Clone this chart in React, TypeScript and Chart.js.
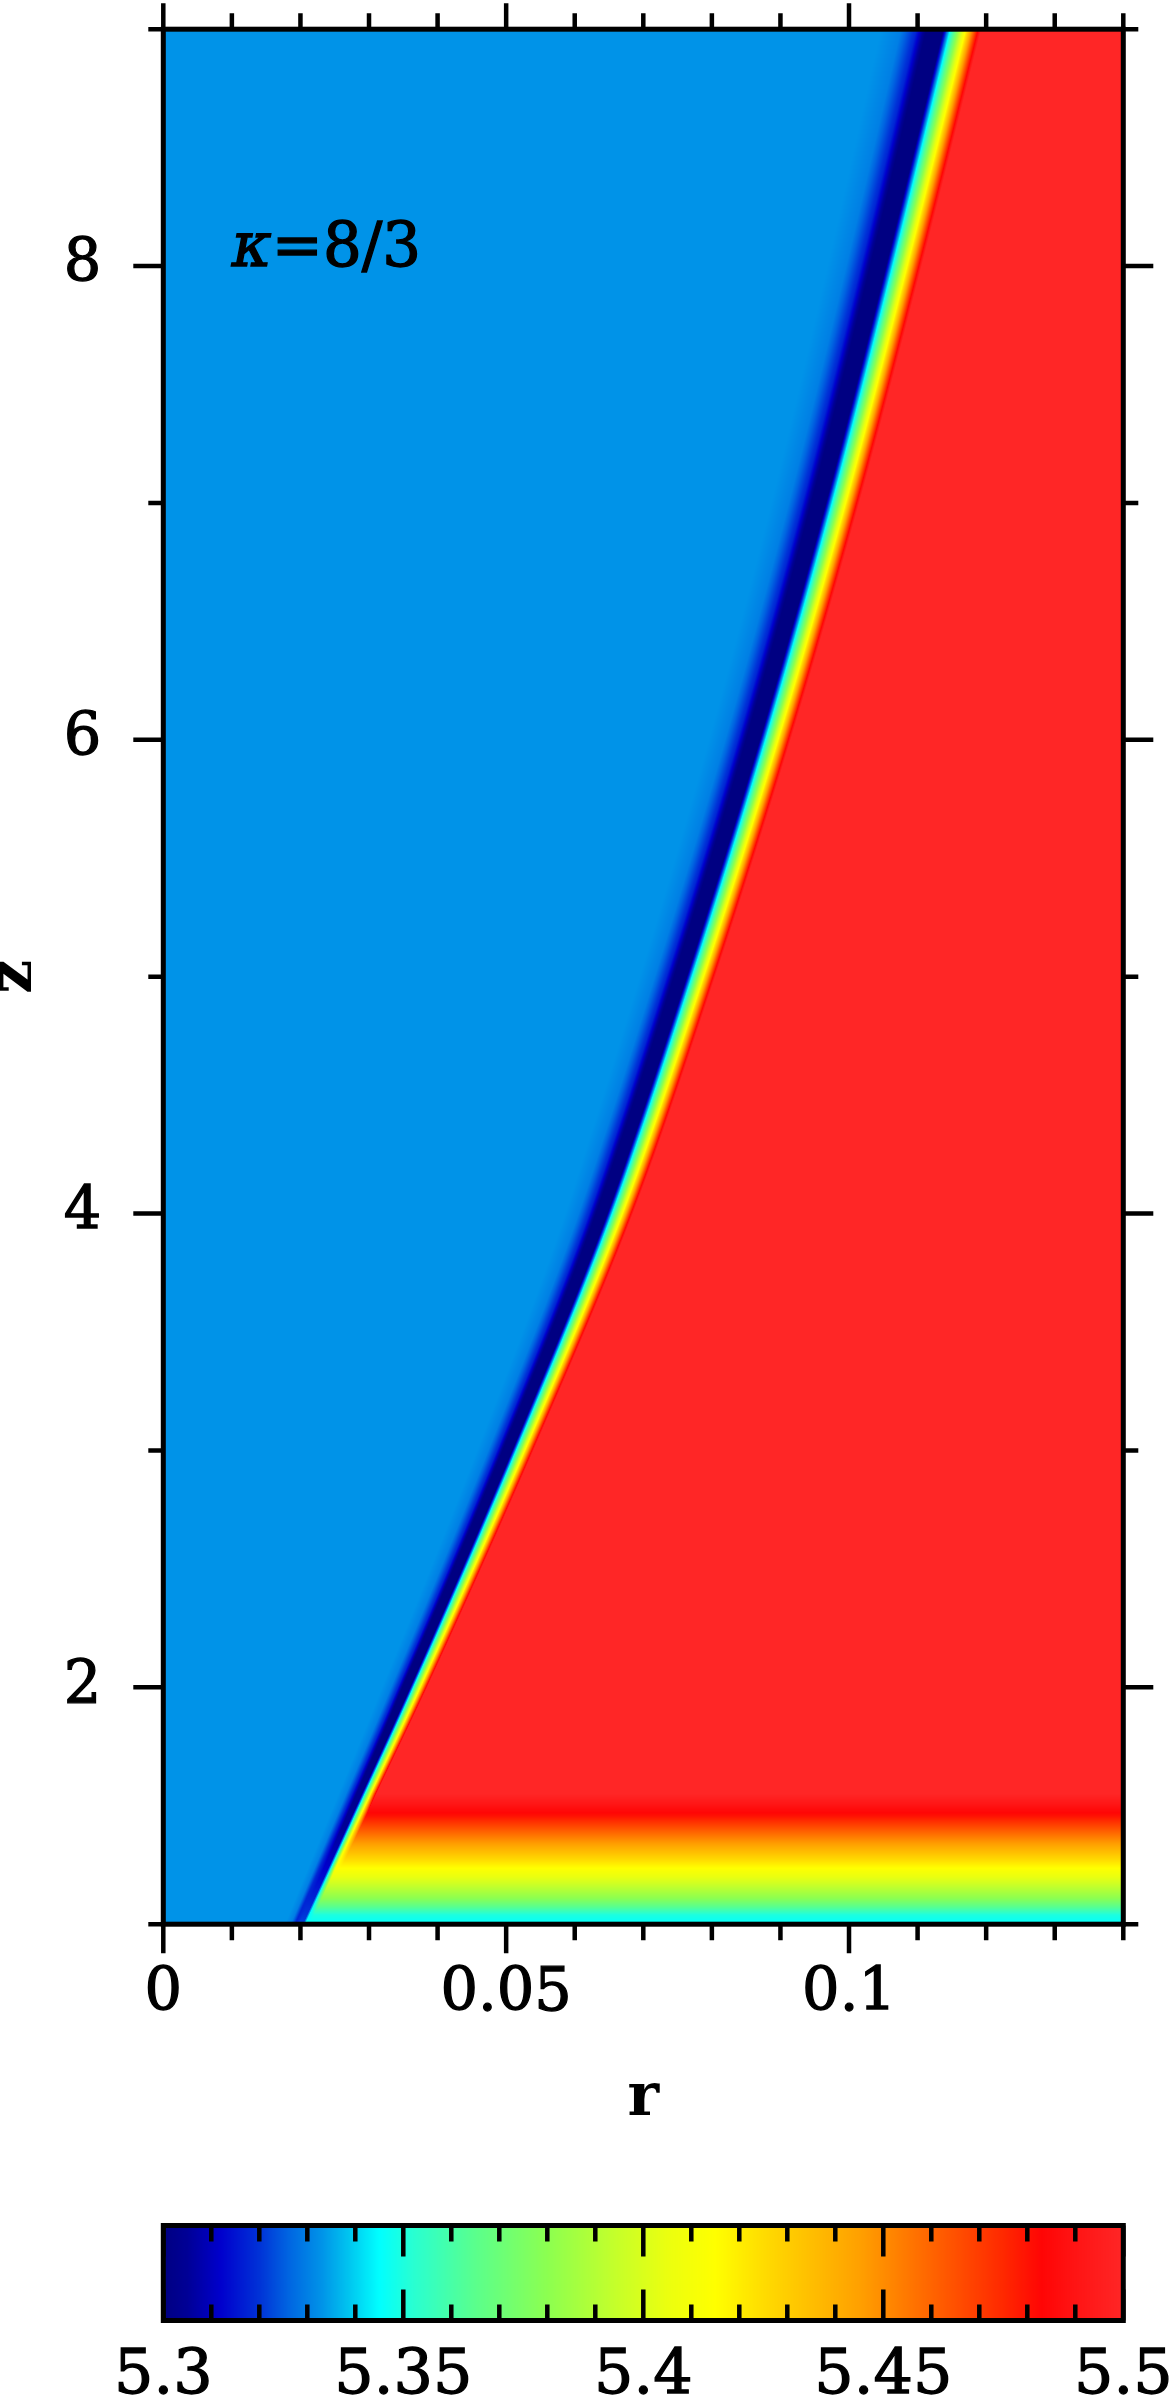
import React, { useEffect, useRef } from 'react';
import { Chart, registerables } from 'chart.js';

Chart.register(...registerables);

// ---------------- data ----------------
const rRange = [0, 0.14];
const zRange = [1, 9];
const valueRange = [5.3, 5.5];

const xLabelTicks = [0, 0.05, 0.1];
const xAllTicks = [0, 0.01, 0.02, 0.03, 0.04, 0.05, 0.06, 0.07, 0.08, 0.09, 0.1, 0.11, 0.12, 0.13, 0.14];
const yLabelTicks = [2, 4, 6, 8];
const yAllTicks = [1, 2, 3, 4, 5, 6, 7, 8, 9];
const cbLabelTicks = [5.3, 5.35, 5.4, 5.45, 5.5];
const cbAllTicks = [5.3, 5.31, 5.32, 5.33, 5.34, 5.35, 5.36, 5.37, 5.38, 5.39, 5.4, 5.41, 5.42, 5.43, 5.44, 5.45, 5.46, 5.47, 5.48, 5.49, 5.5];

// shock front: radius where the red (post-shock) region begins, per height z
const frontZ = [1, 1.52, 2, 3, 4, 5, 6, 7, 8, 9];
const frontR = [0.022, 0.0306, 0.0385, 0.054, 0.0685, 0.0805, 0.0915, 0.1015, 0.1106, 0.1193];

// value on the red side of the front (only varies near the bottom)
const postZ = [1, 1.04, 1.11, 1.22, 1.355, 1.456, 1.55, 9];
const postV = [5.345, 5.35, 5.38, 5.41, 5.45, 5.48, 5.5, 5.5];

// value on the blue side vs. distance behind the front (reference height z = 4.3)
const profileDr = [0, 0.00146, 0.00292, 0.00365, 0.00496, 0.00612, 0.00758, 0.00948];
const profileV = [5.5, 5.415, 5.345, 5.296, 5.296, 5.318, 5.33, 5.333];
// depth of the dark trough near the bottom
const troughZ = [1, 1.4, 2];
const troughV = [5.322, 5.305, 5.296];
// width of that profile relative to z = 4.3
const bandZ = [1, 2, 4.3, 9];
const bandScale = [0.45, 0.7, 1.1, 1.55];

// colour map
const cmapV = [5.3, 5.305, 5.312, 5.32, 5.326, 5.333, 5.339, 5.345, 5.352, 5.365, 5.38, 5.395, 5.405, 5.415, 5.425, 5.435, 5.445, 5.455, 5.465, 5.475, 5.483, 5.49, 5.5];
const cmapRGB = [
  [0, 0, 130], [0, 0, 150], [0, 0, 205], [0, 50, 215], [0, 100, 225], [0, 147, 232],
  [0, 200, 240], [0, 255, 255], [40, 255, 210], [90, 255, 140], [140, 255, 80], [200, 255, 40],
  [235, 255, 15], [255, 255, 0], [255, 220, 0], [255, 190, 0], [255, 160, 0], [255, 120, 0],
  [255, 80, 0], [255, 40, 0], [255, 5, 5], [255, 20, 20], [255, 38, 38],
];

const noteText = { symbol: 'κ', rest: '=8/3', r: 0.01, z: 8 };

// ---------------- helpers ----------------
const FONT = "'DejaVu Serif', serif";

function interp(xs: number[], ys: number[], x: number) {
  if (x <= xs[0]) return ys[0];
  for (let i = 1; i < xs.length; i++) {
    if (x <= xs[i]) {
      const t = (x - xs[i - 1]) / (xs[i] - xs[i - 1]);
      return ys[i - 1] + t * (ys[i] - ys[i - 1]);
    }
  }
  return ys[ys.length - 1];
}

// monotone cubic (Fritsch–Carlson) through the front points, so the drawn front has no corners
function makeSmooth(xs: number[], ys: number[]) {
  const n = xs.length;
  const d: number[] = [];
  for (let i = 0; i < n - 1; i++) d.push((ys[i + 1] - ys[i]) / (xs[i + 1] - xs[i]));
  const m: number[] = new Array(n);
  m[0] = d[0];
  m[n - 1] = d[n - 2];
  for (let i = 1; i < n - 1; i++) m[i] = d[i - 1] * d[i] <= 0 ? 0 : (d[i - 1] + d[i]) / 2;
  return (x: number) => {
    if (x <= xs[0]) return ys[0];
    if (x >= xs[n - 1]) return ys[n - 1];
    let i = 0;
    while (x > xs[i + 1]) i++;
    const h = xs[i + 1] - xs[i];
    const t = (x - xs[i]) / h;
    const t2 = t * t, t3 = t2 * t;
    return (2 * t3 - 3 * t2 + 1) * ys[i] + (t3 - 2 * t2 + t) * h * m[i] + (-2 * t3 + 3 * t2) * ys[i + 1] + (t3 - t2) * h * m[i + 1];
  };
}
const frontAt = makeSmooth(frontZ, frontR);

function colorOf(v: number): number[] {
  const n = cmapV.length;
  if (v <= cmapV[0]) return cmapRGB[0];
  if (v >= cmapV[n - 1]) return cmapRGB[n - 1];
  for (let i = 1; i < n; i++) {
    if (v <= cmapV[i]) {
      const t = (v - cmapV[i - 1]) / (cmapV[i] - cmapV[i - 1]);
      const a = cmapRGB[i - 1], b = cmapRGB[i];
      return [a[0] + t * (b[0] - a[0]), a[1] + t * (b[1] - a[1]), a[2] + t * (b[2] - a[2])];
    }
  }
  return cmapRGB[n - 1];
}

function rowProfile(z: number) {
  const post = interp(postZ, postV, z);
  const trough = interp(troughZ, troughV, z);
  const vals = profileV.slice();
  vals[0] = post;
  vals[1] = Math.min(vals[1], post);
  vals[2] = Math.min(vals[2], post);
  vals[3] = trough;
  vals[4] = trough;
  return { post, vals, rf: frontAt(z), s: interp(bandZ, bandScale, z) };
}

const isIn = (arr: number[], v: number) => arr.some((m) => Math.abs(m - v) < 1e-9);
const fmt = (v: any) => String(+Number(v).toFixed(4));

// ---------------- plugins ----------------
const heatmapPlugin = {
  id: 'heatmap',
  beforeDatasetsDraw(chart: any) {
    const { ctx, chartArea: a, scales } = chart;
    const xs = scales.x, ys = scales.y;
    const left = Math.round(a.left), top = Math.round(a.top);
    const w = Math.round(a.right) - left, h = Math.round(a.bottom) - top;
    const img = ctx.createImageData(w, h);
    const rs = new Float64Array(w);
    for (let i = 0; i < w; i++) rs[i] = xs.getValueForPixel(left + i + 0.5);
    for (let j = 0; j < h; j++) {
      const z = ys.getValueForPixel(top + j + 0.5);
      const p = rowProfile(z);
      for (let i = 0; i < w; i++) {
        const r = rs[i];
        const v = r >= p.rf ? p.post : interp(profileDr, p.vals, (p.rf - r) / p.s);
        const c = colorOf(v);
        const k = (j * w + i) * 4;
        img.data[k] = c[0];
        img.data[k + 1] = c[1];
        img.data[k + 2] = c[2];
        img.data[k + 3] = 255;
      }
    }
    ctx.putImageData(img, left, top);
  },
  afterDraw(chart: any) {
    const { ctx, chartArea: a, scales } = chart;
    const xs = scales.x, ys = scales.y;
    ctx.save();
    ctx.strokeStyle = '#000';
    ctx.lineWidth = 4.5;
    ctx.lineCap = 'butt';
    ctx.beginPath();
    for (const v of xAllTicks) {
      const px = xs.getPixelForValue(v);
      const major = isIn(xLabelTicks, v);
      ctx.moveTo(px, a.bottom);
      ctx.lineTo(px, a.bottom + (major ? 29 : 16));
      ctx.moveTo(px, a.top);
      ctx.lineTo(px, a.top - (major ? 26 : 16));
    }
    for (const v of yAllTicks) {
      const py = ys.getPixelForValue(v);
      const major = isIn(yLabelTicks, v);
      ctx.moveTo(a.left, py);
      ctx.lineTo(a.left - (major ? 30 : 15), py);
      ctx.moveTo(a.right, py);
      ctx.lineTo(a.right + (major ? 30 : 15), py);
    }
    ctx.stroke();
    ctx.lineWidth = 5;
    ctx.strokeRect(a.left, a.top, a.right - a.left, a.bottom - a.top);

    // annotation
    const tx = xs.getPixelForValue(noteText.r);
    const ty = ys.getPixelForValue(noteText.z);
    ctx.fillStyle = '#000';
    ctx.lineWidth = 1.3;
    ctx.textBaseline = 'alphabetic';
    ctx.textAlign = 'left';
    ctx.font = `italic 61px ${FONT}`;
    ctx.fillText(noteText.symbol, tx, ty);
    ctx.strokeText(noteText.symbol, tx, ty);
    const wk = ctx.measureText(noteText.symbol).width;
    ctx.font = `61px ${FONT}`;
    ctx.fillText(noteText.rest, tx + wk, ty);
    ctx.strokeText(noteText.rest, tx + wk, ty);
    ctx.restore();
  },
};

const colorbarPlugin = {
  id: 'colorbar',
  beforeDatasetsDraw(chart: any) {
    const { ctx, chartArea: a, scales } = chart;
    const xs = scales.x;
    const left = Math.floor(a.left), right = Math.ceil(a.right);
    for (let px = left; px < right; px++) {
      const c = colorOf(xs.getValueForPixel(px + 0.5));
      ctx.fillStyle = `rgb(${Math.round(c[0])},${Math.round(c[1])},${Math.round(c[2])})`;
      ctx.fillRect(px, a.top, 1, a.bottom - a.top);
    }
  },
  afterDraw(chart: any) {
    const { ctx, chartArea: a, scales } = chart;
    const xs = scales.x;
    ctx.save();
    ctx.strokeStyle = '#000';
    ctx.lineWidth = 4.5;
    ctx.beginPath();
    for (const v of cbAllTicks) {
      const px = xs.getPixelForValue(v);
      const major = isIn(cbLabelTicks, v);
      const len = major ? 31 : 16;
      ctx.moveTo(px, a.top);
      ctx.lineTo(px, a.top + len);
      ctx.moveTo(px, a.bottom);
      ctx.lineTo(px, a.bottom - len);
    }
    ctx.stroke();
    ctx.lineWidth = 5;
    ctx.strokeRect(a.left, a.top, a.right - a.left, a.bottom - a.top);
    ctx.restore();
  },
};

// ---------------- layout constants ----------------
const W = 1175;
const MAIN_H = 2180;
const CB_H = 224;
const PLOT_LEFT = 163.3;
const PLOT_RIGHT = 1123.3;
const PLOT_TOP = 29.2;
const PLOT_BOTTOM = 1924.2;

const tickFont = { family: FONT, size: 59, lineHeight: 1 };

export default function App() {
  const mainRef = useRef<HTMLCanvasElement>(null);
  const cbRef = useRef<HTMLCanvasElement>(null);

  useEffect(() => {
    const frontPoints = frontZ.map((z, i) => ({ x: frontR[i], y: z }));
    const main = new Chart(mainRef.current as HTMLCanvasElement, {
      type: 'scatter',
      data: {
        datasets: [
          { label: 'shock front', data: frontPoints, showLine: false, pointRadius: 0, borderWidth: 0 },
        ],
      },
      plugins: [heatmapPlugin],
      options: {
        responsive: false,
        animation: false,
        events: [],
        devicePixelRatio: 1,
        layout: { padding: { left: 0, right: W - PLOT_RIGHT, top: PLOT_TOP, bottom: 0 } },
        plugins: { legend: { display: false }, tooltip: { enabled: false } },
        scales: {
          x: {
            type: 'linear',
            position: 'bottom',
            min: rRange[0],
            max: rRange[1],
            afterBuildTicks: (s: any) => { s.ticks = xLabelTicks.map((value) => ({ value })); },
            afterFit: (s: any) => { s.height = MAIN_H - PLOT_BOTTOM; s.paddingLeft = 0; s.paddingRight = 0; },
            grid: { display: false, drawTicks: false },
            border: { display: false },
            ticks: {
              padding: 41,
              autoSkip: false,
              maxRotation: 0,
              color: '#000',
              textStrokeColor: '#000',
              textStrokeWidth: 1.3,
              font: tickFont,
              callback: (v: any) => fmt(v),
            },
            title: {
              display: true,
              text: 'r',
              color: '#000',
              font: { family: FONT, size: 60, weight: 'bold', lineHeight: 1 },
              padding: { top: 0, bottom: 51 },
            },
          },
          y: {
            type: 'linear',
            position: 'left',
            min: zRange[0],
            max: zRange[1],
            afterBuildTicks: (s: any) => { s.ticks = yLabelTicks.map((value) => ({ value })); },
            afterFit: (s: any) => { s.width = PLOT_LEFT; s.paddingTop = 0; s.paddingBottom = 0; },
            grid: { display: false, drawTicks: false },
            border: { display: false },
            ticks: {
              padding: 62,
              autoSkip: false,
              color: '#000',
              textStrokeColor: '#000',
              textStrokeWidth: 1.3,
              font: tickFont,
              callback: (v: any) => fmt(v),
            },
            title: {
              display: true,
              text: 'z',
              color: '#000',
              font: { family: FONT, size: 60, weight: 'bold', lineHeight: 0.2 },
              padding: { top: 9, bottom: 0 },
            },
          },
        },
      } as any,
    });

    const cbPoints = cbLabelTicks.map((v) => ({ x: v, y: 0.5 }));
    const cb = new Chart(cbRef.current as HTMLCanvasElement, {
      type: 'scatter',
      data: { datasets: [{ label: 'colour scale', data: cbPoints, pointRadius: 0, showLine: false }] },
      plugins: [colorbarPlugin],
      options: {
        responsive: false,
        animation: false,
        events: [],
        devicePixelRatio: 1,
        layout: { padding: { left: PLOT_LEFT, right: W - PLOT_RIGHT, top: 45.5, bottom: 0 } },
        plugins: { legend: { display: false }, tooltip: { enabled: false } },
        scales: {
          x: {
            type: 'linear',
            position: 'bottom',
            min: valueRange[0],
            max: valueRange[1],
            afterBuildTicks: (s: any) => { s.ticks = cbLabelTicks.map((value) => ({ value })); },
            afterFit: (s: any) => { s.height = CB_H - 140.5; s.paddingLeft = 0; s.paddingRight = 0; },
            grid: { display: false, drawTicks: false },
            border: { display: false },
            ticks: {
              padding: 25,
              autoSkip: false,
              maxRotation: 0,
              color: '#000',
              textStrokeColor: '#000',
              textStrokeWidth: 1.3,
              font: { family: FONT, size: 62, lineHeight: 1 },
              callback: (v: any) => fmt(v),
            },
          },
          y: { display: false, min: 0, max: 1 },
        },
      } as any,
    });

    return () => {
      main.destroy();
      cb.destroy();
    };
  }, []);

  return (
    <div style={{ position: 'absolute', left: 0, top: 0, width: W, height: MAIN_H + CB_H, background: '#fff' }}>
      <canvas ref={mainRef} width={W} height={MAIN_H} style={{ position: 'absolute', left: 0, top: 0, width: W, height: MAIN_H }} />
      <canvas ref={cbRef} width={W} height={CB_H} style={{ position: 'absolute', left: 0, top: MAIN_H, width: W, height: CB_H }} />
    </div>
  );
}
